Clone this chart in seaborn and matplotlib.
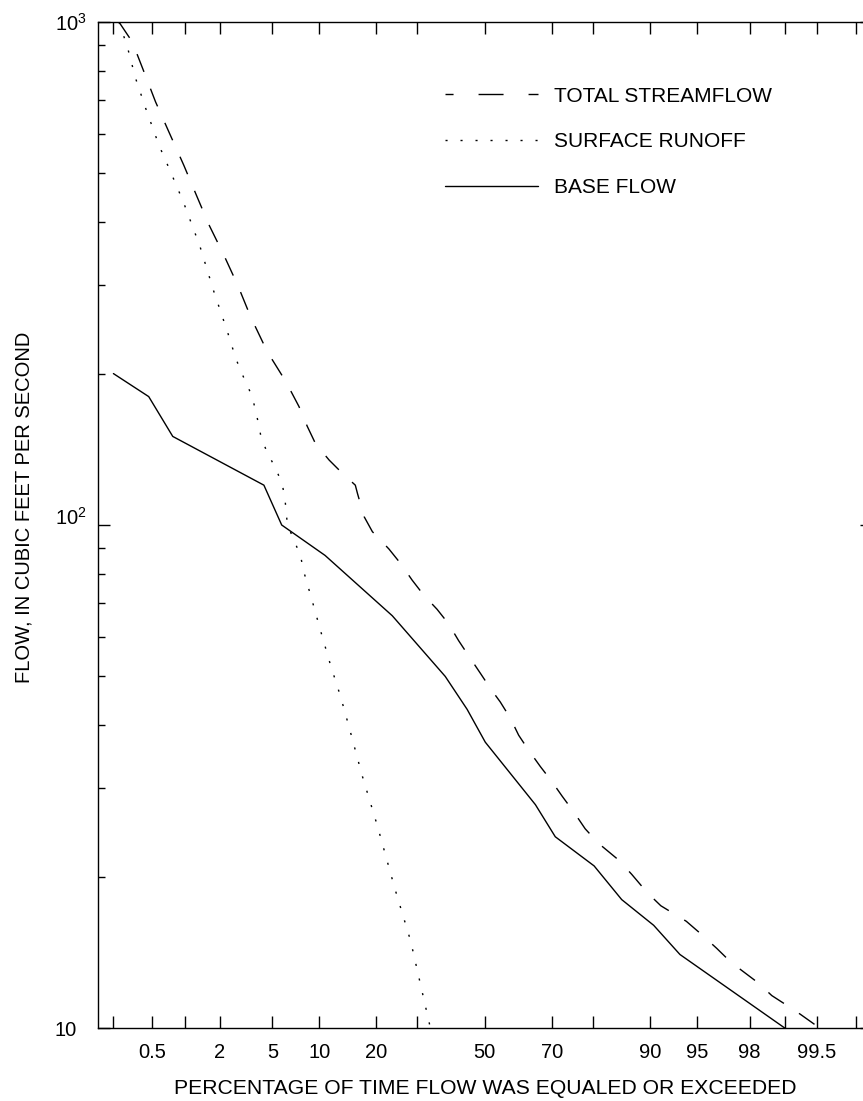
import numpy as np
import pandas as pd
import matplotlib
matplotlib.use("Agg")
import matplotlib.pyplot as plt
import seaborn as sns
from statistics import NormalDist
from matplotlib.lines import Line2D
from matplotlib.ticker import FixedLocator, FixedFormatter, NullFormatter, NullLocator, LogLocator

# ---------------- data ----------------
series_names = ["TOTAL STREAMFLOW", "SURFACE RUNOFF", "BASE FLOW"]

total_pct = [0.229, 0.315, 0.413, 0.536, 0.717, 0.984, 1.29, 1.63, 2.16, 2.79, 3.49, 4.60,
             6.15, 7.50, 8.46, 9.50, 11.4, 13.5, 15.8, 16.2, 17.5, 19.2, 22.9, 25.7, 28.7,
             31.8, 35.6, 39.0, 42.0, 45.1, 48.7, 52.0, 54.8, 57.9, 60.4, 63.3, 66.7, 69.9,
             72.6, 75.5, 78.2, 81.1, 85.0, 87.3, 89.6, 91.4, 94.1, 95.3, 96.4, 97.2, 98.3,
             98.7, 99.04, 99.28, 99.53]
total_flow = [1000, 913, 796, 694, 605, 519, 449, 395, 344, 299, 259, 221,
              193, 172, 157, 145, 134.6, 126.7, 120, 115.6, 103.9, 97, 89.6, 83.9, 77.7,
              72.6, 68.0, 63.6, 58.9, 54.9, 50.7, 47.1, 44.5, 41.3, 38.2, 35.7, 33.1, 30.9,
              28.9, 26.9, 24.9, 23.3, 21.6, 20.2, 18.6, 17.5, 16.3, 15.4, 14.4, 13.5, 12.3,
              11.6, 11.1, 10.65, 10]

surface_pct = [0.229, 0.280, 0.340, 0.429, 0.578, 0.744, 0.974, 1.36, 1.79, 2.31,
               2.69, 3.02, 3.58, 3.98, 4.14, 4.60, 5.27, 5.85, 6.09, 6.31,
               6.97, 7.69, 8.05, 9.09, 10.2, 11.6, 13.2, 14.65, 17.1, 20.3,
               24.3, 28.3, 33.7]
surface_flow = [1000, 893, 773, 674, 569, 504, 439, 359, 291, 242,
                214, 199, 180, 159, 150, 139, 129.6, 120, 112.1, 100,
                93.4, 86.5, 80.7, 70.4, 61.4, 52.7, 45.6, 39.7, 31.8, 25.2,
                18.95, 14.9, 10]

base_pct = [0.2, 0.46, 0.78, 4.35, 5.78, 10.8, 23.7, 38.0, 44.6, 50.2, 65.3, 70.8,
            80.2, 85.6, 90.5, 93.5, 99.0]
base_flow = [200, 180, 150, 120, 100, 87, 66, 50, 43, 37, 27.8, 24,
             21, 18, 16, 14, 10]

x_ticks = [0.2, 0.5, 1, 2, 5, 10, 20, 30, 50, 70, 80, 90, 95, 98, 99, 99.5, 99.8]
x_labeled = [0.5, 2, 5, 10, 20, 50, 70, 90, 95, 98, 99.5]
y_ticks = [10, 100, 1000]
y_tick_labels = ["10", r"$\mathregular{10^2}$", r"$\mathregular{10^3}$"]
x_label = "PERCENTAGE OF TIME FLOW WAS EQUALED OR EXCEEDED"
y_label = "FLOW, IN CUBIC FEET PER SECOND"

# ---------------- style ----------------
sns.set_style("ticks")
plt.rcParams["font.family"] = ["Liberation Sans", "DejaVu Sans"]
plt.rcParams["mathtext.fontset"] = "custom"
plt.rcParams["mathtext.rm"] = "Liberation Sans"
plt.rcParams["mathtext.it"] = "Liberation Sans:italic"
plt.rcParams["mathtext.bf"] = "Liberation Sans:bold"
for key in ["text.color", "axes.labelcolor", "xtick.color", "ytick.color",
            "xtick.labelcolor", "ytick.labelcolor", "axes.edgecolor"]:
    plt.rcParams[key] = "black"

FS_TICK = 14.5
FS_XLAB = 15.2
FS_YLAB = 14.5
FS_LEG = 15

# ---------------- normal probability scale ----------------
_nd = NormalDist()
_inv = np.vectorize(_nd.inv_cdf, otypes=[float])
_cdf = np.vectorize(_nd.cdf, otypes=[float])


def prob_fwd(p):
    p = np.asarray(p, dtype=float)
    q = np.clip(p / 100.0, 1e-12, 1 - 1e-12)
    q = np.where(np.isfinite(q), q, 0.5)
    return _inv(q) if q.size else q


def prob_inv(z):
    z = np.asarray(z, dtype=float)
    z = np.where(np.isfinite(z), z, 0.0)
    return _cdf(z) * 100.0 if z.size else z


df = pd.concat([
    pd.DataFrame({"pct": total_pct, "flow": total_flow, "series": series_names[0]}),
    pd.DataFrame({"pct": surface_pct, "flow": surface_flow, "series": series_names[1]}),
    pd.DataFrame({"pct": base_pct, "flow": base_flow, "series": series_names[2]}),
], ignore_index=True)

dash_total = (13.7, 13.0)
dash_surface = (1.5, 9.3)
dash_styles = {series_names[0]: dash_total, series_names[1]: dash_surface, series_names[2]: ""}

fig = plt.figure(figsize=(8.63, 11.01), dpi=100)
W, H = 863.0, 1101.0
ax_left, ax_right, ax_top, ax_bot = 97.7, 871.6, 22.0, 1028.0
ax = fig.add_axes([ax_left / W, 1 - ax_bot / H, (ax_right - ax_left) / W, (ax_bot - ax_top) / H])

sns.lineplot(data=df, x="pct", y="flow", style="series", dashes=dash_styles,
             color="black", linewidth=1.0, estimator=None, sort=True,
             legend=False, ax=ax)

ax.set_xscale("function", functions=(prob_fwd, prob_inv))
ax.set_yscale("log")
ax.set_xlim(prob_inv(-3.0), prob_inv(3.0))
ax.set_ylim(10, 1000)

ax.xaxis.set_major_locator(FixedLocator(x_ticks))
ax.xaxis.set_major_formatter(FixedFormatter(
    [(("%g" % t) if t in x_labeled else "") for t in x_ticks]))
ax.xaxis.set_minor_locator(NullLocator())

ax.yaxis.set_major_locator(FixedLocator(y_ticks))
ax.yaxis.set_major_formatter(FixedFormatter(y_tick_labels))
ax.yaxis.set_minor_locator(LogLocator(base=10, subs=np.arange(2, 10)))
ax.yaxis.set_minor_formatter(NullFormatter())

ax.tick_params(which="both", direction="in", top=True, right=True,
               labeltop=False, labelright=False, color="black", width=1.0)
ax.tick_params(which="major", length=8.5)
ax.tick_params(which="minor", length=5)
ax.tick_params(axis="x", pad=11.0, labelsize=FS_TICK)
ax.tick_params(axis="y", pad=31, labelsize=FS_TICK)
ylabs = ax.get_yticklabels()
for lab in ylabs:
    lab.set_horizontalalignment("left")
ylabs[1].set_verticalalignment("baseline")

for sp in ax.spines.values():
    sp.set_linewidth(1.0)
    sp.set_color("black")

ax.set_xlabel("")
ax.set_ylabel("")
fig.text(485 / W, 1 - 1089 / H, x_label, ha="center", va="center", fontsize=FS_XLAB)
fig.text(24 / W, 1 - 507.5 / H, y_label, ha="center", va="center", rotation=90, fontsize=FS_YLAB)

handles = [
    Line2D([], [], color="black", linewidth=1.0, linestyle=(12.2, (18, 18))),
    Line2D([], [], color="black", linewidth=1.0, dashes=dash_surface),
    Line2D([], [], color="black", linewidth=1.0),
]
leg = ax.legend(handles, series_names, loc="upper left",
                bbox_to_anchor=(445 / W, 1 - 86.5 / H), bbox_transform=fig.transFigure,
                frameon=False, fontsize=FS_LEG, handlelength=4.47, handletextpad=0.77,
                labelspacing=1.29, borderpad=0, borderaxespad=0)

fig.savefig("out.png", dpi=100)
